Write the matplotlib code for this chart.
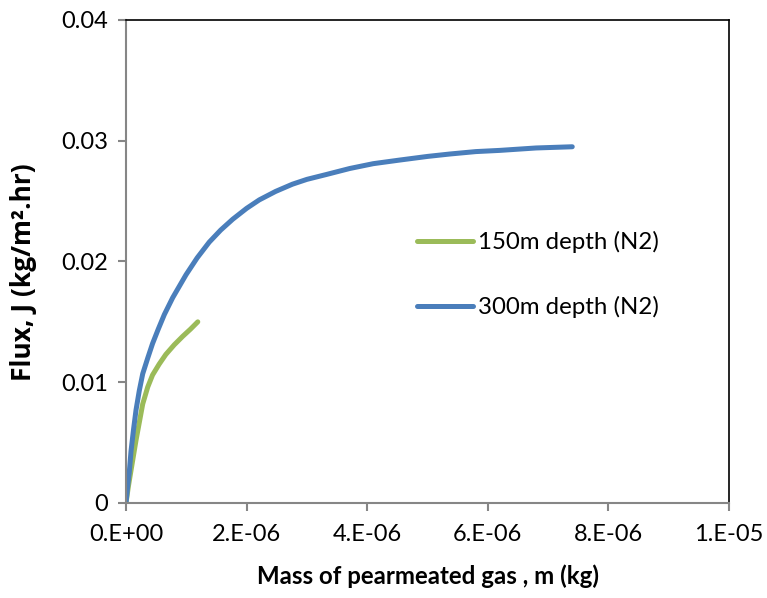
import math
import matplotlib
matplotlib.use("Agg")
import matplotlib.pyplot as plt
from matplotlib.ticker import FuncFormatter, MultipleLocator

plt.rcParams['font.family'] = ['Lato', 'DejaVu Sans']

# mass of permeated gas (kg) vs flux (kg/m2.hr)
m_150 = [0.0, 0.04e-6, 0.083e-6, 0.166e-6, 0.277e-6, 0.36e-6, 0.44e-6, 0.55e-6,
         0.66e-6, 0.80e-6, 0.94e-6, 1.07e-6, 1.19e-6]
j_150 = [0.0, 0.0014, 0.0027, 0.0052, 0.0082, 0.0096, 0.0106, 0.0115,
         0.0123, 0.0131, 0.0138, 0.0144, 0.0150]

m_300 = [0.0, 0.03e-6, 0.055e-6, 0.083e-6, 0.125e-6, 0.166e-6, 0.22e-6, 0.277e-6,
         0.36e-6, 0.44e-6, 0.535e-6, 0.635e-6, 0.774e-6, 0.995e-6, 1.18e-6,
         1.38e-6, 1.57e-6, 1.77e-6, 2.0e-6, 2.21e-6, 2.48e-6, 2.76e-6, 3.0e-6,
         3.32e-6, 3.71e-6, 4.1e-6, 4.54e-6, 5.0e-6, 5.37e-6, 5.8e-6, 6.2e-6,
         6.8e-6, 7.4e-6]
j_300 = [0.0, 0.0015, 0.0026, 0.0043, 0.0061, 0.0077, 0.0093, 0.0107,
         0.0120, 0.0132, 0.0144, 0.0156, 0.0170, 0.0189, 0.0203,
         0.0216, 0.0226, 0.0235, 0.0244, 0.0251, 0.0258, 0.0264, 0.0268,
         0.0272, 0.0277, 0.0281, 0.0284, 0.0287, 0.0289, 0.0291, 0.0292,
         0.0294, 0.0295]

labels = ["150m depth (N2)", "300m depth (N2)"]
colors = ["#9bbb59", "#4a7ebb"]

fig = plt.figure(figsize=(7.67, 5.98), dpi=100)
ax = fig.add_axes([0.1643, 0.1589, 0.9505 - 0.1643, 0.9666 - 0.1589])

ax.plot(m_150, j_150, color=colors[0], lw=3.6, solid_capstyle="round",
        solid_joinstyle="round", label=labels[0])
ax.plot(m_300, j_300, color=colors[1], lw=3.6, solid_capstyle="round",
        solid_joinstyle="round", label=labels[1])

ax.set_xlim(0, 1e-5)
ax.set_ylim(0, 0.04)
ax.xaxis.set_major_locator(MultipleLocator(2e-6))
ax.yaxis.set_major_locator(MultipleLocator(0.01))


def fmt_x(v, pos):
    if abs(v) < 1e-12:
        return "0.E+00"
    exp = int(math.floor(math.log10(abs(v)) + 1e-9))
    mant = v / 10 ** exp
    return f"{mant:.0f}.E-{abs(exp):02d}"


def fmt_y(v, pos):
    if abs(v) < 1e-12:
        return "0"
    return f"{v:.2f}"


ax.xaxis.set_major_formatter(FuncFormatter(fmt_x))
ax.yaxis.set_major_formatter(FuncFormatter(fmt_y))

for side in ["left", "bottom"]:
    ax.spines[side].set_color("#868686")
    ax.spines[side].set_linewidth(1.5)
for side in ["top", "right"]:
    ax.spines[side].set_color("black")
    ax.spines[side].set_linewidth(1.2)

ax.tick_params(axis="both", direction="out", length=6, width=1.5, color="#868686",
               labelsize=17)
ax.tick_params(axis="x", pad=9)
ax.tick_params(axis="y", pad=7)

ax.set_xlabel("Mass of pearmeated gas , m (kg)", fontsize=17.3, fontweight="bold", labelpad=14)
ax.set_ylabel("Flux, J (kg/m².hr)", fontsize=19, fontweight="bold",
              family=["Open Sans", "DejaVu Sans"])
ax.yaxis.set_label_coords(-0.148, 0.478)

ax.legend(loc="upper left", bbox_to_anchor=(0.4826, 0.563), frameon=False, fontsize=17.3,
          handlelength=2.33, handletextpad=0.2, labelspacing=1.8, borderpad=0,
          borderaxespad=0)

fig.savefig("out.png", dpi=100)
